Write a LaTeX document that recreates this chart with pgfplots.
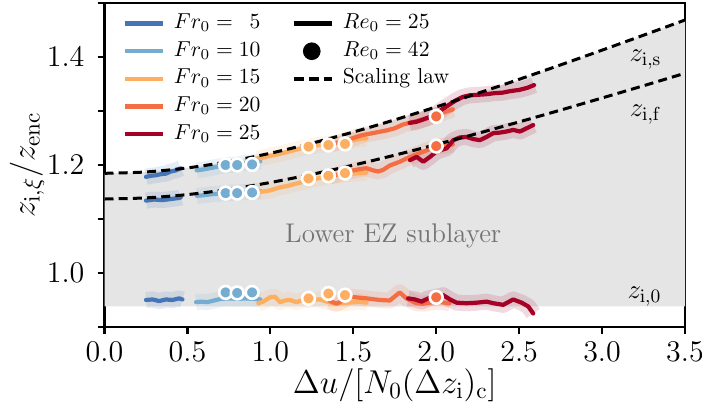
\RequirePackage{fix-cm}
\documentclass[border=0pt]{standalone}
\usepackage{pgfplots}
\usepackage{pgfplotstable}
\pgfplotsset{compat=1.18}
\definecolor{frA}{RGB}{69,117,180}
\definecolor{frB}{RGB}{116,173,209}
\definecolor{frC}{RGB}{253,174,97}
\definecolor{frD}{RGB}{244,109,67}
\definecolor{frE}{RGB}{165,0,38}
\definecolor{ezgray}{RGB}{229,229,229}
\newcommand{\tkfont}{\fontsize{15}{18}\selectfont}
\newcommand{\lbfont}{\fontsize{16.5}{20}\selectfont}

% ---------- Fr0 = 5 ----------
\pgfplotstableread{
x y
0.25 1.178
0.28 1.180
0.31 1.181
0.34 1.183
0.37 1.184
0.40 1.188
0.43 1.190
0.46 1.194
}\FrAs
\pgfplotstableread{
x y
0.25 1.134
0.30 1.136
0.35 1.135
0.40 1.137
0.45 1.139
0.46 1.140
}\FrAf
\pgfplotstableread{
x y
0.25 0.950
0.29 0.951
0.33 0.948
0.37 0.951
0.41 0.950
0.45 0.953
0.47 0.951
}\FrAo
% ---------- Fr0 = 10 ----------
\pgfplotstableread{
x y
0.556 1.190
0.60 1.192
0.65 1.195
0.70 1.198
0.75 1.200
0.80 1.201
0.85 1.204
0.90 1.205
0.94 1.207
}\FrBs
\pgfplotstableread{
x y
0.556 1.143
0.60 1.144
0.65 1.146
0.70 1.147
0.75 1.148
0.80 1.149
0.85 1.150
0.90 1.151
0.94 1.152
}\FrBf
\pgfplotstableread{
x y
0.552 0.946
0.58 0.947
0.62 0.946
0.66 0.949
0.70 0.952
0.75 0.953
0.80 0.952
0.85 0.953
0.90 0.952
0.94 0.951
}\FrBo
% ---------- Fr0 = 15 ----------
\pgfplotstableread{
x y
0.92 1.212
0.96 1.214
1.00 1.217
1.05 1.220
1.10 1.224
1.15 1.228
1.20 1.232
1.25 1.235
1.30 1.237
1.35 1.239
1.40 1.241
1.45 1.243
1.50 1.246
1.55 1.249
1.58 1.249
}\FrCs
\pgfplotstableread{
x y
0.92 1.150
0.96 1.151
1.00 1.153
1.05 1.158
1.10 1.161
1.15 1.165
1.20 1.169
1.25 1.173
1.30 1.176
1.35 1.179
1.40 1.181
1.45 1.183
1.50 1.184
1.55 1.185
1.58 1.186
}\FrCf
\pgfplotstableread{
x y
0.927 0.944
0.957 0.947
0.998 0.955
1.028 0.956
1.058 0.946
1.088 0.949
1.118 0.950
1.158 0.946
1.195 0.950
1.299 0.951
1.339 0.947
1.379 0.944
1.46 0.945
1.54 0.947
1.58 0.945
}\FrCo
% ---------- Fr0 = 20 ----------
\pgfplotstableread{
x y
1.36 1.238
1.40 1.241
1.45 1.245
1.50 1.250
1.55 1.255
1.60 1.258
1.65 1.261
1.70 1.264
1.75 1.268
1.80 1.275
1.85 1.279
1.90 1.283
1.95 1.287
2.00 1.292
2.05 1.298
2.10 1.303
}\FrDs
\pgfplotstableread{
x y
1.36 1.179
1.40 1.182
1.45 1.186
1.50 1.190
1.55 1.193
1.58 1.194
1.62 1.190
1.65 1.188
1.68 1.191
1.72 1.199
1.78 1.206
1.82 1.212
1.86 1.217
1.90 1.222
1.95 1.228
2.00 1.233
2.05 1.236
2.10 1.238
}\FrDf
\pgfplotstableread{
x y
1.36 0.948
1.40 0.943
1.48 0.956
1.58 0.953
1.66 0.950
1.72 0.949
1.78 0.964
1.82 0.953
1.88 0.944
1.92 0.943
2.00 0.947
2.08 0.944
}\FrDo
% ---------- Fr0 = 25 ----------
\pgfplotstableread{
x y
1.84 1.278
1.88 1.280
1.92 1.284
1.96 1.289
2.00 1.295
2.04 1.304
2.08 1.312
2.12 1.320
2.16 1.326
2.20 1.329
2.25 1.330
2.30 1.331
2.35 1.333
2.40 1.334
2.45 1.337
2.50 1.339
2.55 1.343
2.59 1.348
}\FrEs
\pgfplotstableread{
x y
1.842 1.209
1.882 1.215
1.922 1.206
1.962 1.215
2.002 1.225
2.063 1.231
2.103 1.246
2.143 1.251
2.183 1.252
2.223 1.248
2.263 1.246
2.304 1.252
2.344 1.259
2.384 1.260
2.424 1.262
2.464 1.265
2.505 1.262
2.545 1.268
2.585 1.274
}\FrEf
\pgfplotstableread{
x y
1.831 0.953
1.872 0.951
1.912 0.947
1.952 0.953
2.002 0.956
2.042 0.959
2.083 0.951
2.123 0.945
2.183 0.944
2.244 0.945
2.304 0.947
2.344 0.944
2.404 0.941
2.464 0.951
2.515 0.945
2.555 0.938
2.585 0.925
}\FrEo

\pgfplotsset{
  ser/.style={line width=2.1pt, line join=round, line cap=round},
  band/.style={line width=8pt, opacity=0.14, line join=round, line cap=butt},
  dot/.style={only marks, mark=*, mark size=3.2pt,
    mark options={fill=#1, draw=white, line width=1.3pt}},
  law/.style={black, line width=1.5pt, dash pattern=on 4.5pt off 2.6pt, smooth},
  legline/.style={legend image code/.code={\draw[##1] (0pt,0pt) -- (19pt,0pt);}},
  legdot/.style={legend image code/.code={\fill[black] (9pt,0pt) circle (4.2pt);}},
}

\begin{document}
\begin{tikzpicture}
\begin{axis}[
  scale only axis, width=290.25pt, height=162pt,
  xmin=0, xmax=3.5, ymin=0.9, ymax=1.5,
  axis line style={line width=1.3pt},
  tick style={line width=1.1pt, black},
  tick align=outside,
  major tick length=3.5pt, minor tick length=3.5pt,
  xtick={0,0.5,1,1.5,2,2.5,3,3.5},
  ytick={1.0,1.2,1.4}, minor ytick={0.9,1.1,1.3,1.5},
  xtick pos=bottom, ytick pos=left,
  xticklabel={\tkfont$\pgfmathprintnumber[fixed,fixed zerofill,precision=1]{\tick}$},
  yticklabel={\tkfont$\pgfmathprintnumber[fixed,fixed zerofill,precision=1]{\tick}$},
  yticklabel style={xshift=-3pt},
  xticklabel style={yshift=-0.5pt},
  xlabel={\lbfont$\Delta u/[N_0(\Delta z_\mathrm{i})_\mathrm{c}]$},
  ylabel={\lbfont$z_{\mathrm{i},\xi}/z_\mathrm{enc}$},
  xlabel style={at={(axis description cs:0.5,-0.18)}, anchor=center},
  ylabel style={at={(axis description cs:-0.1335,0.5)}, anchor=center},
  legend columns=2,
  legend cell align=left,
  legend style={draw=none, fill=none, at={(axis description cs:0.02,0.99)}, anchor=north west,
    font=\fontsize{10.8}{13}\selectfont,
    nodes={inner sep=1.5pt, text height=7.5pt, text depth=2.5pt},
    /tikz/row sep=0.8pt,
    /tikz/every odd column/.append style={column sep=3pt},
    /tikz/every even column/.append style={column sep=14pt}},
]
% grey lower EZ sublayer
\addplot[fill=ezgray, draw=none, forget plot] coordinates {
 (0,0.938) (0,1.1846) (0.25,1.1871) (0.5,1.1946) (0.75,1.2064) (1.0,1.2218)
 (1.25,1.2403) (1.5,1.2610) (1.75,1.2836) (2.0,1.3076) (2.25,1.3327) (2.5,1.3587)
 (2.75,1.3854) (3.0,1.4127) (3.25,1.4404) (3.5,1.4685) (3.5,0.938)} -- cycle;

% bands
\addplot[band, frA, forget plot] table {\FrAs};
\addplot[band, frA, forget plot] table {\FrAf};
\addplot[band, frA, forget plot] table {\FrAo};
\addplot[band, frB, forget plot] table {\FrBs};
\addplot[band, frB, forget plot] table {\FrBf};
\addplot[band, frB, forget plot] table {\FrBo};
\addplot[band, frC, forget plot] table {\FrCs};
\addplot[band, frC, forget plot] table {\FrCf};
\addplot[band, frC, forget plot] table {\FrCo};
\addplot[band, frD, forget plot] table {\FrDs};
\addplot[band, frD, forget plot] table {\FrDf};
\addplot[band, frD, forget plot] table {\FrDo};
\addplot[band, frE, forget plot] table {\FrEs};
\addplot[band, frE, forget plot] table {\FrEf};
\addplot[band, frE, forget plot] table {\FrEo};
% lines
\addplot[ser, frA, forget plot] table {\FrAs};
\addplot[ser, frA, forget plot] table {\FrAf};
\addplot[ser, frA, forget plot] table {\FrAo};
\addplot[ser, frB, forget plot] table {\FrBs};
\addplot[ser, frB, forget plot] table {\FrBf};
\addplot[ser, frB, forget plot] table {\FrBo};
\addplot[ser, frC, forget plot] table {\FrCs};
\addplot[ser, frC, forget plot] table {\FrCf};
\addplot[ser, frC, forget plot] table {\FrCo};
\addplot[ser, frD, forget plot] table {\FrDs};
\addplot[ser, frD, forget plot] table {\FrDf};
\addplot[ser, frD, forget plot] table {\FrDo};
\addplot[ser, frE, forget plot] table {\FrEs};
\addplot[ser, frE, forget plot] table {\FrEf};
\addplot[ser, frE, forget plot] table {\FrEo};
% scaling laws
\addplot[law, forget plot] coordinates {
 (0,1.1846) (0.25,1.1871) (0.5,1.1946) (0.75,1.2064) (1.0,1.2218)
 (1.25,1.2403) (1.5,1.2610) (1.75,1.2836) (2.0,1.3076) (2.25,1.3327) (2.5,1.3587)
 (2.75,1.3854) (3.0,1.4127) (3.25,1.4404) (3.5,1.4685)};
\addplot[law, forget plot] coordinates {
 (0,1.1370) (0.25,1.1391) (0.5,1.1452) (0.75,1.1549) (1.0,1.1676)
 (1.25,1.1827) (1.5,1.1997) (1.75,1.2182) (2.0,1.2379) (2.25,1.2585) (2.5,1.2798)
 (2.75,1.3017) (3.0,1.3241) (3.25,1.3468) (3.5,1.3699)};

% Re0 = 42 dots
\addplot[dot=frB, forget plot] coordinates {(0.73,1.200) (0.80,1.200) (0.89,1.201)
  (0.73,1.148) (0.80,1.148) (0.89,1.149) (0.73,0.964) (0.80,0.963) (0.89,0.964)};
\addplot[dot=frC, forget plot] coordinates {(1.23,1.234) (1.35,1.237) (1.45,1.239)
  (1.23,1.175) (1.35,1.180) (1.45,1.185) (1.23,0.953) (1.35,0.962) (1.45,0.959)};
\addplot[dot=frD, forget plot] coordinates {(2.0,1.290) (2.0,1.235) (2.0,0.955)};

% legend
\addlegendimage{frA, line width=2.2pt, legline}
\addlegendentry{$Fr_0 = \phantom{1}5$}
\addlegendimage{black, line width=2.2pt, legline}
\addlegendentry{$Re_0 = 25$}
\addlegendimage{frB, line width=2.2pt, legline}
\addlegendentry{$Fr_0 = 10$}
\addlegendimage{legdot}
\addlegendentry{$Re_0 = 42$}
\addlegendimage{frC, line width=2.2pt, legline}
\addlegendentry{$Fr_0 = 15$}
\addlegendimage{black, line width=2pt, dash pattern=on 5pt off 2.5pt, legline}
\addlegendentry{Scaling law}
\addlegendimage{frD, line width=2.2pt, legline}
\addlegendentry{$Fr_0 = 20$}
\addlegendimage{empty legend}
\addlegendentry{}
\addlegendimage{frE, line width=2.2pt, legline}
\addlegendentry{$Fr_0 = 25$}

% text labels
\node[anchor=base east, font=\fontsize{13.5}{16}\selectfont] at (axis cs:3.4,1.391) {$z_{\mathrm{i},\mathrm{s}}$};
\node[anchor=base east, font=\fontsize{13.5}{16}\selectfont] at (axis cs:3.4,1.2895) {$z_{\mathrm{i},\mathrm{f}}$};
\node[anchor=base east, font=\fontsize{13.5}{16}\selectfont] at (axis cs:3.4,0.953) {$z_{\mathrm{i},0}$};
\node[anchor=center, text=black!55, font=\fontsize{13.5}{16}\selectfont] at (axis cs:1.741,1.0685) {Lower EZ sublayer};
\end{axis}
\pgfresetboundingbox
\path[use as bounding box] (-52.25pt,-41.5pt) rectangle (298.75pt,163.5pt);
\end{tikzpicture}
\end{document}
